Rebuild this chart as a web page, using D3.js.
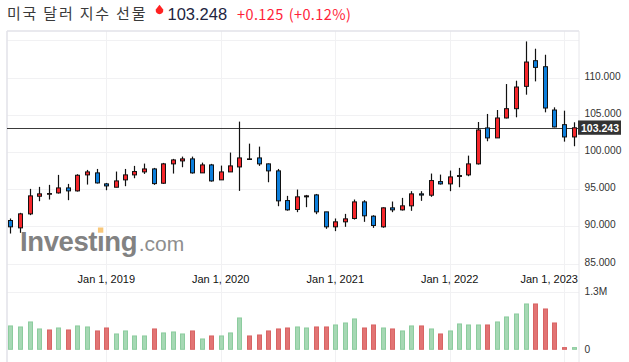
<!DOCTYPE html>
<html>
<head>
<meta charset="utf-8">
<script src="https://cdn.jsdelivr.net/npm/d3@7"></script>
<style>
  html, body { margin: 0; padding: 0; background: #fff; }
  svg { display: block; }
</style>
</head>
<body>
<div id="chart"></div>
<script>
// -------------------- Data --------------------
const months = [
  "2018-03","2018-04","2018-05","2018-06","2018-07","2018-08","2018-09","2018-10","2018-11","2018-12",
  "2019-01","2019-02","2019-03","2019-04","2019-05","2019-06","2019-07","2019-08","2019-09","2019-10","2019-11","2019-12",
  "2020-01","2020-02","2020-03","2020-04","2020-05","2020-06","2020-07","2020-08","2020-09","2020-10","2020-11","2020-12",
  "2021-01","2021-02","2021-03","2021-04","2021-05","2021-06","2021-07","2021-08","2021-09","2021-10","2021-11","2021-12",
  "2022-01","2022-02","2022-03","2022-04","2022-05","2022-06","2022-07","2022-08","2022-09","2022-10","2022-11","2022-12",
  "2023-01","2023-02"
];
const open = [
  90.78, 89.79, 91.67, 94.04, 94.31, 94.49, 95.16, 94.76, 96.91, 97.18,
  95.70, 95.25, 96.24, 96.91, 97.31, 97.71, 95.79, 98.39, 98.79, 99.06, 97.18, 98.25,
  96.24, 97.31, 97.98, 99.00, 99.19, 98.39, 97.45, 93.46, 92.26, 93.96, 94.22, 91.94,
  89.93, 90.60, 91.05, 93.28, 91.36, 89.93, 92.48, 92.21, 92.75, 94.36, 94.18, 96.01,
  95.70, 96.70, 96.91, 98.39, 103.22, 101.88, 104.56, 105.81, 108.81, 112.26, 111.45, 105.63,
  103.66, 102.01
];
const high = [
  91.05, 91.81, 95.03, 95.30, 95.57, 96.91, 95.70, 97.00, 97.58, 97.71,
  95.83, 97.36, 97.71, 98.12, 98.43, 97.85, 98.52, 99.06, 99.37, 99.37, 98.56, 98.39,
  98.16, 99.91, 104.07, 101.11, 100.71, 98.45, 97.71, 94.09, 94.94, 94.22, 94.35, 91.94,
  91.05, 91.67, 93.60, 93.51, 91.49, 92.55, 93.33, 93.82, 94.72, 94.72, 97.09, 96.95,
  97.49, 97.85, 99.50, 104.02, 105.10, 105.63, 109.12, 109.57, 114.85, 113.87, 113.06, 105.99,
  105.54, 103.98
];
const low = [
  89.03, 89.12, 91.50, 93.37, 93.60, 94.40, 93.51, 94.67, 95.61, 95.75,
  94.85, 95.25, 95.39, 96.46, 97.04, 95.57, 95.70, 97.09, 97.94, 97.08, 97.18, 96.00,
  96.24, 97.31, 94.76, 99.00, 98.12, 95.92, 92.70, 92.10, 91.90, 92.57, 91.63, 89.66,
  89.35, 89.93, 90.91, 90.60, 89.79, 89.80, 91.90, 92.12, 92.08, 93.42, 93.96, 95.61,
  94.72, 95.25, 96.73, 98.30, 101.43, 101.88, 104.50, 104.65, 107.69, 109.48, 105.32, 103.30,
  101.38, 100.76
];
const close = [
  89.93, 91.67, 94.09, 94.36, 94.40, 95.16, 94.76, 96.86, 97.31, 95.83,
  95.43, 96.10, 96.91, 97.36, 97.71, 95.74, 98.39, 98.92, 99.06, 97.18, 98.25, 96.10,
  97.31, 98.12, 99.19, 99.06, 98.39, 97.45, 93.42, 92.21, 93.96, 94.09, 91.94, 89.93,
  90.60, 91.00, 93.28, 91.41, 90.11, 92.48, 92.21, 92.75, 94.36, 94.20, 96.15, 95.70,
  96.64, 96.82, 98.39, 102.95, 101.88, 104.56, 105.81, 108.72, 112.08, 111.36, 105.90, 103.35,
  102.01, 103.24
];
// volume in thousands of contracts
const volume = [
  527, 504, 617, 459, 436, 481, 436, 527, 504, 414,
  481, 346, 414, 301, 301, 459, 369, 391, 346, 414, 233, 301,
  301, 369, 707, 301, 323, 414, 459, 481, 504, 481, 504, 504,
  549, 594, 685, 481, 549, 481, 459, 414, 527, 527, 459, 346,
  414, 572, 549, 549, 549, 617, 730, 797, 1023, 1023, 910, 594,
  38, 38
];
// 1 = green volume bar, 0 = red volume bar
const volUp = [
  1, 1, 1, 1, 0, 1, 0, 1, 1, 0,
  0, 1, 1, 1, 1, 0, 1, 1, 1, 0, 1, 0,
  1, 1, 1, 0, 0, 0, 0, 0, 1, 1, 0, 0,
  1, 1, 1, 0, 0, 1, 0, 1, 1, 0, 1, 0,
  1, 1, 1, 1, 0, 1, 1, 1, 1, 0, 0, 0,
  0, 1
];
const priceTicks = [85, 90, 95, 100, 105, 110, 115];
const yearTicks = ["2019-01-01", "2020-01-01", "2021-01-01", "2022-01-01", "2023-01-01"];
const lastPrice = 103.243;
const title = "미국 달러 지수 선물";
const quote = "103.248";
const change = "+0.125";
const changePct = "(+0.12%)";

// -------------------- Layout --------------------
const width = 629, height = 362;
const plot = { left: 7, right: 579, top: 31 };
const parse = d3.timeParse("%Y-%m");
const parseDay = d3.timeParse("%Y-%m-%d");

const candles = months.map((m, i) => ({
  date: parse(m), o: open[i], h: high[i], l: low[i], c: close[i],
  v: volume[i], vUp: volUp[i] === 1
}));

const x = d3.scaleTime()
  .domain([parseDay("2019-01-01"), parseDay("2023-01-01")])
  .range([106.3, 564]);
const y = d3.scaleLinear().domain([85, 115]).range([263.5, 40.3]);
const yVol = d3.scaleLinear().domain([0, 1300]).range([349.3, 291.7]);

const svg = d3.select("#chart").append("svg")
  .attr("width", width).attr("height", height)
  .attr("viewBox", [0, 0, width, height]);

const crisp = v => Math.round(v) + 0.5;

// -------------------- Grid --------------------
const grid = svg.append("g").attr("stroke", "#f1f1f3").attr("stroke-width", 1);
grid.selectAll("line.h").data(priceTicks).join("line")
  .attr("x1", plot.left).attr("x2", plot.right)
  .attr("y1", d => crisp(y(d))).attr("y2", d => crisp(y(d)));
grid.selectAll("line.v").data(yearTicks).join("line")
  .attr("x1", d => crisp(x(parseDay(d)))).attr("x2", d => crisp(x(parseDay(d))))
  .attr("y1", plot.top).attr("y2", height);
// volume top line
grid.append("line")
  .attr("x1", plot.left).attr("x2", plot.right)
  .attr("y1", crisp(yVol(1300))).attr("y2", crisp(yVol(1300)));

// frame
const frame = svg.append("g").attr("stroke", "#e2e2e8").attr("stroke-width", 1.5).attr("fill", "none");
frame.append("line").attr("x1", plot.left).attr("x2", plot.right).attr("y1", plot.top).attr("y2", plot.top);
frame.append("line").attr("x1", plot.left).attr("x2", plot.left).attr("y1", plot.top).attr("y2", height);
frame.append("line").attr("x1", plot.right).attr("x2", plot.right).attr("y1", plot.top).attr("y2", height)
  .attr("stroke", "#e6e6ea").attr("stroke-width", 1);

// -------------------- Watermark --------------------
const wm = svg.append("g");
const wmText = wm.append("text")
  .attr("x", 20).attr("y", 251)
  .attr("font-family", "Arial, 'Liberation Sans', sans-serif")
  .attr("font-weight", "bold").attr("font-size", 27.5)
  .attr("letter-spacing", -0.4)
  .attr("fill", "#828282");
wmText.append("tspan").text("Invest");
wmText.append("tspan").text("\u0131");
wmText.append("tspan").text("ng");
wmText.append("tspan")
  .attr("font-weight", "normal").attr("font-size", 21).attr("fill", "#8e8e8e")
  .attr("letter-spacing", 0)
  .attr("dx", 1.5)
  .text(".com");
const iStart = wmText.node().getSubStringLength(0, 6);
const iWidth = wmText.node().getSubStringLength(6, 1);
wm.append("rect")
  .attr("x", 20 + iStart + iWidth / 2 - 2.8).attr("y", 227.5)
  .attr("width", 5.4).attr("height", 5.2)
  .attr("fill", "#f8c77a");

// -------------------- Volume --------------------
svg.append("g").selectAll("rect").data(candles).join("rect")
  .attr("x", d => Math.round(x(d.date)) - 2 + 0.5)
  .attr("width", 4)
  .attr("y", d => yVol(d.v))
  .attr("height", d => Math.max(0.5, yVol(0) - yVol(d.v)))
  .attr("fill", d => d.vUp ? "#a6d8b4" : "#e27474")
  .attr("stroke", d => d.vUp ? "#8ccc9e" : "#d86464")
  .attr("stroke-width", 1);

// -------------------- Price line --------------------
svg.append("line")
  .attr("x1", plot.left).attr("x2", plot.right)
  .attr("y1", crisp(y(lastPrice))).attr("y2", crisp(y(lastPrice)))
  .attr("stroke", "#3a3a3a").attr("stroke-width", 1);

// -------------------- Candles --------------------
const cg = svg.append("g");
cg.selectAll("line").data(candles).join("line")
  .attr("x1", d => crisp(x(d.date))).attr("x2", d => crisp(x(d.date)))
  .attr("y1", d => y(d.h)).attr("y2", d => y(d.l))
  .attr("stroke", "#111").attr("stroke-width", 1.2);
cg.selectAll("rect").data(candles).join("rect")
  .attr("x", d => Math.round(x(d.date)) - 2 + 0.5)
  .attr("width", 4)
  .attr("y", d => y(Math.max(d.o, d.c)))
  .attr("height", d => Math.max(0.6, Math.abs(y(d.o) - y(d.c))))
  .attr("fill", d => d.c >= d.o ? "#f5262b" : "#0d7fdc")
  .attr("stroke", "#111").attr("stroke-width", 1);

// -------------------- Axes labels --------------------
const fmt = d3.format(".3f");
svg.append("g").selectAll("text").data(priceTicks.filter(t => t >= 85 && t <= 110)).join("text")
  .attr("x", 584.5).attr("y", d => y(d) - 1.5)
  .attr("dy", "0.35em")
  .attr("font-family", "Arial, 'Liberation Sans', sans-serif")
  .attr("font-size", 10.2).attr("fill", "#333")
  .text(d => fmt(d));

// last price tag
const tag = svg.append("g");
tag.append("rect")
  .attr("x", 578).attr("y", y(lastPrice) - 7.3)
  .attr("width", 43).attr("height", 14.3)
  .attr("fill", "#333");
tag.append("text")
  .attr("x", 600).attr("y", y(lastPrice))
  .attr("dy", "0.36em").attr("text-anchor", "middle")
  .attr("font-family", "Arial, 'Liberation Sans', sans-serif")
  .attr("font-weight", "bold").attr("font-size", 10.5).attr("fill", "#fff")
  .text(fmt(lastPrice));

// x labels
const xl = svg.append("g")
  .attr("font-family", "Arial, 'Liberation Sans', sans-serif")
  .attr("font-size", 11).attr("fill", "#111");
xl.selectAll("text").data(yearTicks).join("text")
  .attr("y", 279).attr("dy", "0.35em")
  .text(d => d3.timeFormat("Jan 1, %Y")(parseDay(d)))
  .each(function (d) {
    const w = this.getComputedTextLength();
    let cx = x(parseDay(d));
    if (cx + w / 2 > plot.right - 1) cx = plot.right - 1 - w / 2;
    d3.select(this).attr("x", cx - w / 2);
  });

// volume labels
const vl = svg.append("g")
  .attr("font-family", "Arial, 'Liberation Sans', sans-serif")
  .attr("font-size", 10.2).attr("fill", "#333");
vl.append("text").attr("x", 584.5).attr("y", yVol(1300)).attr("dy", "0.35em").text("1.3M");
vl.append("text").attr("x", 584.5).attr("y", yVol(0)).attr("dy", "0.35em").text("0");

// -------------------- Title --------------------
svg.append("text")
  .attr("x", 7).attr("y", 19)
  .attr("font-family", "'Noto Sans CJK KR', sans-serif")
  .attr("font-size", 15).attr("letter-spacing", 1.8).attr("fill", "#3a3a3a")
  .text(title);
svg.append("path")
  .attr("d", "M155.8,9.5 L159.5,4.8 L163.2,9.5 A3.8,3.8 0 1 1 155.8,9.5 Z")
  .attr("fill", "#f22");
svg.append("text")
  .attr("x", 167.5).attr("y", 19.5)
  .attr("font-family", "Arial, 'Liberation Sans', sans-serif")
  .attr("font-size", 16.5).attr("fill", "#22243e")
  .text(quote);
const chg = svg.append("text")
  .attr("x", 237).attr("y", 19.5)
  .attr("font-family", "'Noto Sans CJK KR', sans-serif")
  .attr("font-size", 14.5).attr("letter-spacing", 0.4).attr("fill", "#ff1f3a")
  .text(change);
svg.append("text")
  .attr("x", 237 + chg.node().getComputedTextLength() + 5).attr("y", 19.5)
  .attr("font-family", "'Noto Sans CJK KR', sans-serif")
  .attr("font-size", 14.5).attr("letter-spacing", 0.4).attr("fill", "#ff1f3a")
  .text(changePct);
</script>
</body>
</html>
